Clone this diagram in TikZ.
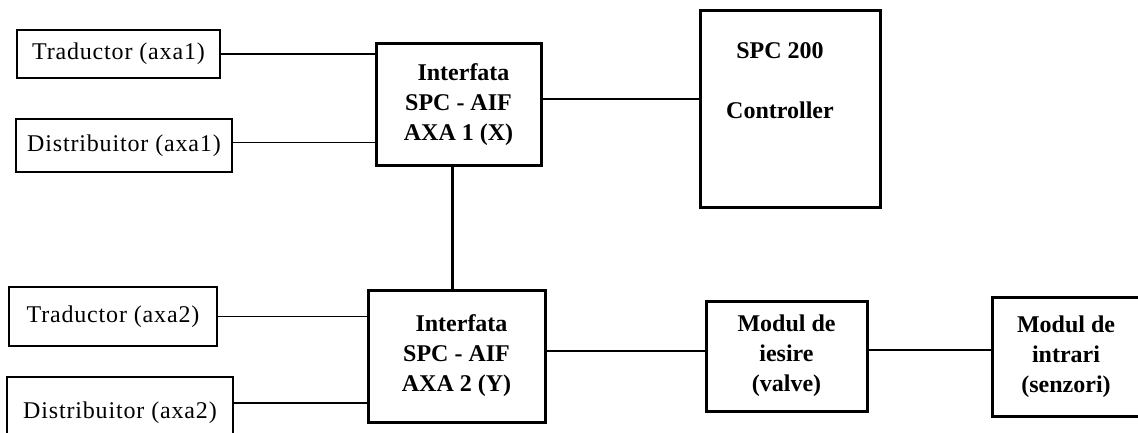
\documentclass[tikz,border=0pt]{standalone}
\usepackage{fontspec}
\setmainfont{Liberation Serif}
\usetikzlibrary{positioning,calc}
\tikzset{
  periph/.style={draw, line width=1.4pt, inner sep=0pt,
                 font=\fontsize{24}{30}\selectfont\addfontfeature{LetterSpace=3.5}},
  modul/.style={draw, line width=3pt, inner sep=0pt, align=center,
                font=\fontsize{24}{30}\selectfont\bfseries},
  modtext/.style={inner sep=0pt, align=center, font=\fontsize{24}{30}\selectfont\bfseries},
  wire/.style={line width=1.4pt},
  busline/.style={line width=2.8pt},
}

\begin{document}
\begin{tikzpicture}[x=1pt, y=-1pt]
    \useasboundingbox (0,0) rectangle (1138,433);
    % axa 1
    \node[periph, minimum width=203pt, minimum height=48pt] (trad1) at (118.5,54)  {Traductor (axa1)};
    \node[periph, minimum width=216pt, minimum height=53pt] (dist1) at (124,145.5) {Distribuitor (axa1)};
    \node[modul, minimum width=165pt, minimum height=122pt] (intf1) at (458.5,105)
        {\hspace*{10pt}Interfata\\SPC - AIF\\AXA 1 (X)};
    \node[modul, minimum width=180pt, minimum height=196pt] (ctrl) at (790,109) {};
    \node[modtext, below=33pt of ctrl.north, xshift=-10pt] (ctrltxt) {SPC 200\\[30pt]Controller};
    % axa 2
    \node[periph, minimum width=208pt, minimum height=59pt] (trad2) at (113,316.5) {Traductor (axa2)};
    \node[periph, minimum width=226pt, minimum height=72pt] (dist2) at (120,413)   {Distribuitor (axa2)};
    \node[modul, minimum width=177pt, minimum height=132pt] (intf2) at (456.5,356)
        {\hspace*{10pt}Interfata\\SPC - AIF\\AXA 2 (Y)};
    \node[modul, minimum width=161pt, minimum height=110pt] (modies) at (786.5,356) {Modul de\\iesire\\(valve)};
    \node[modul, minimum width=148pt, minimum height=119pt] (modin)  at (1066,356.5) {Modul de\\intrari\\(senzori)};
    % legaturi
    \draw[wire] (trad1.east) -- (trad1.east -| intf1.west);
    \draw[wire] ([yshift=3pt]dist1.east) -- ([yshift=3pt]dist1.east -| intf1.west);
    \draw[wire] (trad2.east) -- (trad2.east -| intf2.west);
    \draw[wire] ([yshift=10pt]dist2.east) -- ([yshift=10pt]dist2.east -| intf2.west);
    \draw[busline] ([yshift=6pt]intf1.east) -- ([yshift=6pt]intf1.east -| ctrl.west);
    \draw[busline] ([xshift=-6pt]intf1.south) -- ([xshift=-6pt]intf1.south |- intf2.north);
    \draw[busline] ([yshift=5pt]intf2.east) -- ([yshift=5pt]intf2.east -| modies.west);
    \draw[busline] ([yshift=6pt]modies.east) -- ([yshift=6pt]modies.east -| modin.west);
\end{tikzpicture}
\end{document}
